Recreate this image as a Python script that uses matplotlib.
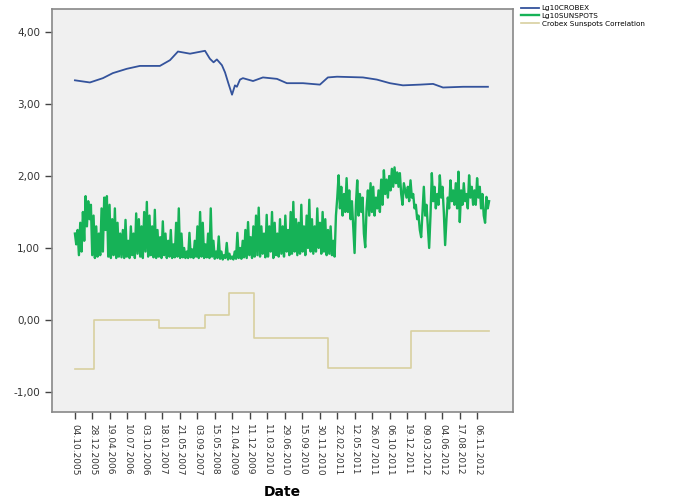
import matplotlib
matplotlib.use("Agg")
import matplotlib.pyplot as plt
import numpy as np

# observation index on a categorical date axis, a label every 9 observations
tick_labels = ["04.10.2005", "28.12.2005", "19.04.2006", "10.07.2006", "03.10.2006",
               "18.01.2007", "21.05.2007", "03.09.2007", "15.05.2008", "21.04.2009",
               "11.12.2009", "11.03.2010", "29.06.2010", "15.09.2010", "30.11.2010",
               "22.02.2011", "12.05.2011", "26.07.2011", "06.10.2011", "19.12.2011",
               "09.03.2012", "04.06.2012", "17.08.2012", "06.11.2012"]
tick_step = 9

crobex_idx = [0, 7.7, 14.4, 19.5, 26.7, 33.4, 43.7, 48.9, 53, 59.2, 66.9, 69.4, 71.3, 73,
              75.6, 77.2, 78.9, 80.8, 82.3, 83.3, 84.9, 86.4, 91.6, 96.7, 103.9, 109,
              117.3, 126, 130.1, 134.8, 148.1, 155.3, 162, 168.7, 177.5, 184.2, 189.3,
              199.6, 212.4]
crobex_val = [3.33, 3.30, 3.36, 3.43, 3.49, 3.53, 3.53, 3.61, 3.73, 3.70, 3.74, 3.63, 3.58,
              3.62, 3.54, 3.44, 3.29, 3.13, 3.26, 3.24, 3.34, 3.36, 3.32, 3.37, 3.35, 3.29,
              3.29, 3.27, 3.37, 3.38, 3.37, 3.34, 3.29, 3.26, 3.27, 3.28, 3.23, 3.24, 3.24]

sunspots = [
    1.20, 1.05, 1.25, 0.90, 1.35, 0.95, 1.50, 1.10, 1.72, 1.30, 1.65, 1.40,
    1.60, 0.90, 1.45, 0.86, 1.30, 0.88, 1.20, 0.90, 1.55, 0.95, 1.70, 1.25,
    1.72, 0.88, 1.60, 0.86, 1.40, 0.90, 1.55, 0.86, 1.35, 0.88, 1.20, 0.87,
    1.25, 0.86, 1.39, 0.88, 1.10, 0.86, 1.30, 0.90, 1.20, 0.86, 1.48, 0.92,
    1.40, 0.88, 1.30, 0.86, 1.50, 0.95, 1.64, 0.88, 1.45, 0.90, 1.30, 0.87,
    1.53, 0.86, 1.25, 0.88, 1.15, 0.86, 1.37, 0.90, 1.20, 0.86, 1.10, 0.88,
    1.25, 0.86, 1.05, 0.87, 1.35, 0.88, 1.55, 0.86, 1.20, 0.87, 1.00, 0.86,
    0.95, 0.86, 1.21, 0.87, 0.98, 0.86, 1.10, 0.88, 1.30, 0.86, 1.50, 0.88,
    1.35, 0.86, 1.05, 0.87, 1.20, 0.86, 1.55, 0.88, 1.10, 0.85, 0.95, 0.86,
    1.16, 0.85, 0.95, 0.84, 0.90, 0.86, 1.07, 0.84, 0.92, 0.85, 0.88, 0.84,
    0.95, 0.85, 1.21, 0.86, 1.00, 0.85, 1.10, 0.87, 1.25, 0.86, 1.36, 0.90,
    1.15, 0.86, 1.30, 0.88, 1.45, 0.90, 1.56, 0.88, 1.30, 0.92, 1.20, 0.87,
    1.46, 0.88, 1.30, 0.95, 1.50, 0.86, 1.35, 0.90, 1.20, 0.88, 1.40, 0.92,
    1.30, 0.88, 1.45, 0.95, 1.25, 0.90, 1.50, 0.92, 1.64, 0.95, 1.40, 0.90,
    1.35, 0.92, 1.60, 0.95, 1.30, 0.90, 1.45, 1.00, 1.67, 0.95, 1.40, 0.92,
    1.30, 0.95, 1.55, 1.00, 1.35, 0.92, 1.50, 0.95, 1.40, 0.90, 1.25, 0.92,
    1.30, 0.90, 1.10, 0.88, 1.45, 1.70, 2.01, 1.55, 1.85, 1.45, 1.75, 1.50,
    1.97, 1.50, 1.80, 1.40, 1.65, 1.30, 0.93, 1.60, 1.94, 1.45, 1.75, 1.50,
    1.70, 1.20, 1.01, 1.55, 1.80, 1.45, 1.90, 1.50, 1.85, 1.45, 1.70, 1.55,
    1.80, 1.50, 1.95, 1.60, 2.08, 1.75, 1.95, 1.70, 2.00, 1.80, 2.10, 1.85,
    2.12, 1.90, 2.05, 1.85, 2.04, 1.75, 1.60, 1.90, 1.80, 1.70, 1.85, 1.65,
    1.94, 1.70, 1.75, 1.55, 1.60, 1.40, 1.45, 1.25, 1.15, 1.50, 1.85, 1.45,
    1.60, 1.30, 1.00, 1.45, 2.04, 1.65, 1.85, 1.55, 1.75, 1.60, 2.01, 1.70,
    1.85, 1.50, 1.04, 1.40, 1.70, 1.55, 1.94, 1.65, 1.80, 1.60, 1.90, 1.55,
    2.06, 1.36, 1.80, 1.60, 1.90, 1.65, 1.75, 1.55, 2.01, 1.70, 1.85, 1.60,
    1.80, 1.60, 1.97, 1.70, 1.85, 1.55, 1.75, 1.45, 1.35, 1.71, 1.55, 1.65]

# yearly correlation, step boundaries in observation index
corr_edges = [0, 10, 43, 67, 79, 92, 130, 173, 213]
corr_vals = [-0.68, 0.0, -0.11, 0.07, 0.37, -0.25, -0.67, -0.15]

fig = plt.figure(figsize=(6.75, 5.04), dpi=100)
ax = fig.add_axes([0.077, 0.1825, 0.683, 0.7995])
ax.set_facecolor("#f0f0f0")

sun_x = np.linspace(0, corr_edges[-1], len(sunspots))
l1, = ax.plot(crobex_idx, crobex_val, color="#34539c", lw=1.3, label="Lg10CROBEX")
l2, = ax.plot(sun_x, sunspots, color="#16b257", lw=1.7, label="Lg10SUNSPOTS")
l3, = ax.step(corr_edges, corr_vals + [corr_vals[-1]], where="post", color="#d8d0a0",
              lw=1.2, label="Crobex Sunspots Correlation")

ax.set_xlim(-11.8, 225.3)
ax.set_ylim(-1.28, 4.32)
ax.set_yticks([-1, 0, 1, 2, 3, 4])
ax.set_yticklabels([f"{v:.2f}".replace(".", ",") for v in [-1, 0, 1, 2, 3, 4]],
                   fontsize=7.5, color="#333333")
ax.set_xticks([i * tick_step for i in range(len(tick_labels))])
ax.set_xticklabels(tick_labels, rotation=270, fontsize=6.5, color="#333333")
ax.tick_params(direction="out", length=5, width=1, color="#444444")
for s in ax.spines.values():
    s.set_color("#888888")
    s.set_linewidth(1.2)

fig.text(0.418, 0.024, "Date", fontsize=10, fontweight="bold", ha="center", va="center")

fig.legend(handles=[l1, l2, l3], loc="upper left", bbox_to_anchor=(0.765, 1.0),
           frameon=False, fontsize=5.2, handlelength=2.4, labelspacing=0.25,
           handletextpad=0.4, borderaxespad=0.3)

fig.savefig("out.png", dpi=100)
